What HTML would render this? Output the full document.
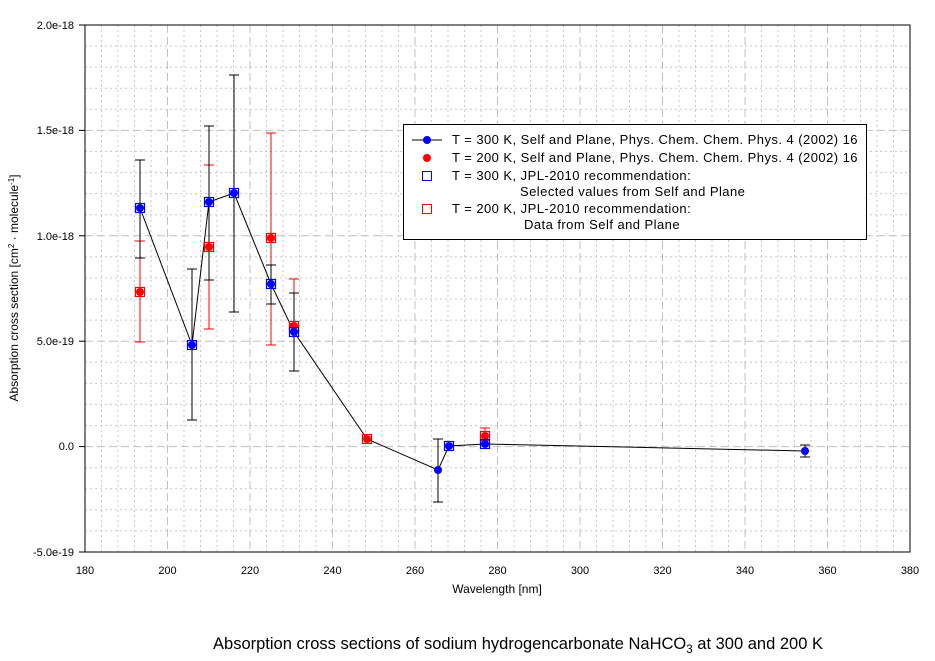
<html><body style="margin:0;background:#fff">
<svg width="935" height="661" xmlns="http://www.w3.org/2000/svg" font-family="Liberation Sans, Arial, sans-serif" font-size="11">
<rect width="935" height="661" fill="#fff"/>
<g stroke="#c8c8c8" stroke-dasharray="2,3">
<g id="vx">
<line x1="101.5" y1="25" x2="101.5" y2="552"/><line x1="118" y1="25" x2="118" y2="552"/><line x1="134.5" y1="25" x2="134.5" y2="552"/><line x1="151" y1="25" x2="151" y2="552"/>
</g>
<use href="#vx" x="82.5"/><use href="#vx" x="165"/><use href="#vx" x="247.5"/><use href="#vx" x="330"/><use href="#vx" x="412.5"/><use href="#vx" x="495"/><use href="#vx" x="577.5"/><use href="#vx" x="660"/><use href="#vx" x="742.5"/>
<g id="hy">
<line x1="85" y1="46.1" x2="910" y2="46.1"/><line x1="85" y1="67.2" x2="910" y2="67.2"/><line x1="85" y1="88.2" x2="910" y2="88.2"/><line x1="85" y1="109.3" x2="910" y2="109.3"/>
</g>
<use href="#hy" y="105.4"/><use href="#hy" y="210.8"/><use href="#hy" y="316.2"/><use href="#hy" y="421.6"/>
</g>
<g stroke="#c0c0c0" stroke-dasharray="8,4">
<line x1="167.5" y1="25" x2="167.5" y2="552"/><line x1="250" y1="25" x2="250" y2="552"/><line x1="332.5" y1="25" x2="332.5" y2="552"/><line x1="415" y1="25" x2="415" y2="552"/><line x1="497.5" y1="25" x2="497.5" y2="552"/><line x1="580" y1="25" x2="580" y2="552"/><line x1="662.5" y1="25" x2="662.5" y2="552"/><line x1="745" y1="25" x2="745" y2="552"/><line x1="827.5" y1="25" x2="827.5" y2="552"/>
<line x1="85" y1="130.4" x2="910" y2="130.4"/><line x1="85" y1="235.8" x2="910" y2="235.8"/><line x1="85" y1="341.2" x2="910" y2="341.2"/><line x1="85" y1="446.6" x2="910" y2="446.6"/>
</g>
<rect x="85" y="25" width="825" height="527" fill="none" stroke="#000"/>
<g stroke="#000">
<line x1="79" y1="25" x2="85" y2="25"/><line x1="79" y1="130.4" x2="85" y2="130.4"/><line x1="79" y1="235.8" x2="85" y2="235.8"/><line x1="79" y1="341.2" x2="85" y2="341.2"/><line x1="79" y1="446.6" x2="85" y2="446.6"/><line x1="79" y1="552" x2="85" y2="552"/>
</g>
<g text-anchor="end">
<text x="74" y="29">2.0e-18</text><text x="74" y="134">1.5e-18</text><text x="74" y="240">1.0e-18</text><text x="74" y="345">5.0e-19</text><text x="74" y="450">0.0</text><text x="74" y="556">-5.0e-19</text>
</g>
<g text-anchor="middle">
<text x="85" y="574">180</text><text x="167.5" y="574">200</text><text x="250" y="574">220</text><text x="332.5" y="574">240</text><text x="415" y="574">260</text><text x="497.5" y="574">280</text><text x="580" y="574">300</text><text x="662.5" y="574">320</text><text x="745" y="574">340</text><text x="827.5" y="574">360</text><text x="910" y="574">380</text>
</g>
<text x="497" y="593" text-anchor="middle" font-size="12">Wavelength [nm]</text>
<text transform="translate(18,288) rotate(-90)" text-anchor="middle" font-size="12">Absorption cross section [cm<tspan font-size="8" dy="-4">2</tspan><tspan dy="4"> · molecule</tspan><tspan font-size="8" dy="-4">-1</tspan><tspan dy="4">]</tspan></text>
<text x="518" y="649" text-anchor="middle" font-size="16.5">Absorption cross sections of sodium hydrogencarbonate NaHCO<tspan font-size="11.5" dy="4">3</tspan><tspan dy="-4"> at 300 and 200 K</tspan></text>
<g stroke="#f00">
<path d="M140 241V342M135 241H145M135 342H145"/>
<path d="M209 165V329M204 165H214M204 329H214"/>
<path d="M271 133V345M266 133H276M266 345H276"/>
<path d="M294 279V370M289 279H299"/>
<path d="M485 428V445M480 428H490"/>
</g>
<g stroke="#000">
<path d="M140 160V258M135 160H145M135 258H145"/>
<path d="M192 269V420M187 269H197M187 420H197"/>
<path d="M209 126V280M204 126H214M204 280H214"/>
<path d="M234 75V312M229 75H239M229 312H239"/>
<path d="M271 265V304M266 265H276M266 304H276"/>
<path d="M294 293V371M289 293H299M289 371H299"/>
<path d="M438 439V502M433 439H443M433 502H443"/>
<path d="M805 445V457M800 445H810M800 457H810"/>
</g>
<polyline fill="none" stroke="#000" points="140,208 192,345 209,202 234,193 271,284 294,332 367,439 438,470 449,446 485,444 805,451"/>
<g fill="#f00">
<circle cx="140" cy="292" r="4"/><circle cx="209" cy="247" r="4"/><circle cx="271" cy="238" r="4"/><circle cx="294" cy="326" r="4"/><circle cx="367" cy="439" r="4"/><circle cx="485" cy="436" r="4"/>
</g>
<g fill="none" stroke="#f00" stroke-width="1.2">
<rect x="135.5" y="287.5" width="9" height="9"/><rect x="204.5" y="242.5" width="9" height="9"/><rect x="266.5" y="233.5" width="9" height="9"/><rect x="289.5" y="321.5" width="9" height="9"/><rect x="362.5" y="434.5" width="9" height="9"/><rect x="480.5" y="431.5" width="9" height="9"/>
</g>
<g fill="#00f">
<circle cx="140" cy="208" r="4"/><circle cx="192" cy="345" r="4"/><circle cx="209" cy="202" r="4"/><circle cx="234" cy="193" r="4"/><circle cx="271" cy="284" r="4"/><circle cx="294" cy="332" r="4"/><circle cx="438" cy="470" r="4"/><circle cx="449" cy="446" r="4"/><circle cx="485" cy="444" r="4"/><circle cx="805" cy="451" r="4"/>
</g>
<g fill="none" stroke="#00f" stroke-width="1.2">
<rect x="135.5" y="203.5" width="9" height="9"/><rect x="187.5" y="340.5" width="9" height="9"/><rect x="204.5" y="197.5" width="9" height="9"/><rect x="229.5" y="188.5" width="9" height="9"/><rect x="266.5" y="279.5" width="9" height="9"/><rect x="289.5" y="327.5" width="9" height="9"/><rect x="444.5" y="441.5" width="9" height="9"/><rect x="480.5" y="439.5" width="9" height="9"/>
</g>
<rect x="403.5" y="124.5" width="463" height="115" fill="#fff" stroke="#000"/>
<line x1="412" y1="140" x2="442" y2="140" stroke="#000"/>
<circle cx="427" cy="140" r="4" fill="#00f"/>
<circle cx="427" cy="158" r="4" fill="#f00"/>
<rect x="422.5" y="171.5" width="9" height="9" fill="none" stroke="#00f"/>
<rect x="422.5" y="204.5" width="9" height="9" fill="none" stroke="#f00"/>
<g font-size="13" letter-spacing="0.45">
<text x="452" y="144">T = 300 K, Self and Plane, Phys. Chem. Chem. Phys. 4 (2002) 16</text>
<text x="452" y="162">T = 200 K, Self and Plane, Phys. Chem. Chem. Phys. 4 (2002) 16</text>
<text x="452" y="180">T = 300 K, JPL-2010 recommendation:</text>
<text x="520" y="196">Selected values from Self and Plane</text>
<text x="452" y="213">T = 200 K, JPL-2010 recommendation:</text>
<text x="524" y="229">Data from Self and Plane</text>
</g>
</svg>
</body></html>
